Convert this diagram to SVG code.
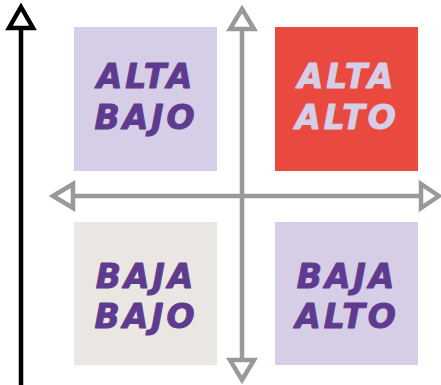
<svg xmlns="http://www.w3.org/2000/svg" width="441" height="385" viewBox="0 0 441 385">
<style>
.lbl{font-family:"DejaVu Sans","Liberation Sans",sans-serif;font-weight:bold;font-style:oblique;font-size:33px;letter-spacing:3px;text-anchor:middle;stroke-width:1;stroke-linejoin:round}
.pur{fill:#5f3b8f;stroke:#5f3b8f}
.lav{fill:#d6cde6;stroke:#d6cde6}
.ax{stroke:#999999;stroke-width:4.5;fill:none}
.head{fill:#ffffff;stroke:#999999;stroke-width:4.5;stroke-linejoin:miter}
</style>
<rect width="441" height="385" fill="#ffffff"/>
<g id="q-alta-bajo">
<rect x="74" y="27" width="143" height="144" fill="#d6cde6"/>
<text class="lbl pur" x="146" y="88">ALTA</text>
<text class="lbl pur" x="146" y="129">BAJO</text>
</g>
<g id="q-alta-alto">
<rect x="275" y="27" width="143" height="144" fill="#e9493e"/>
<text class="lbl lav" x="347" y="88">ALTA</text>
<text class="lbl lav" x="347" y="129">ALTO</text>
</g>
<g id="q-baja-bajo">
<rect x="74" y="222" width="143" height="143" fill="#eae6e1"/>
<text class="lbl pur" x="146" y="288">BAJA</text>
<text class="lbl pur" x="146" y="328">BAJO</text>
</g>
<g id="q-baja-alto">
<rect x="275" y="222" width="143" height="143" fill="#d6cde6"/>
<text class="lbl pur" x="347" y="288">BAJA</text>
<text class="lbl pur" x="347" y="328">ALTO</text>
</g>
<g id="connectors">
<line x1="21" y1="30" x2="21" y2="385" stroke="#000000" stroke-width="4.5"/>
<polygon points="21,7 33,28 9,28" fill="#ffffff" stroke="#000000" stroke-width="4.5"/>
<line class="ax" x1="242" y1="29" x2="242" y2="360"/>
<polygon class="head" points="242,9 254,29 230,29"/>
<polygon class="head" points="242,380 254,360 230,360"/>
<line class="ax" x1="73" y1="196" x2="421" y2="196"/>
<polygon class="head" points="53,196 73,184 73,208"/>
<polygon class="head" points="439,196 421,184 421,208"/>
</g>
</svg>
